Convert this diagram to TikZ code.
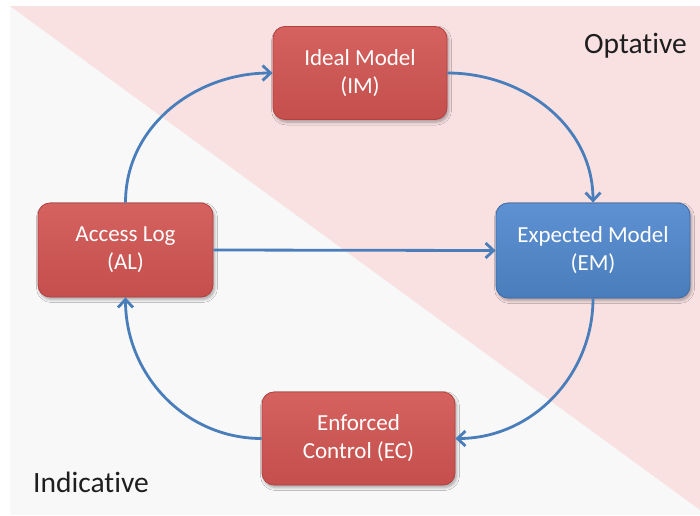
\documentclass[tikz,border=0pt]{standalone}
\usepackage{fontspec}
\setmainfont[RawFeature={-liga}]{Carlito}
\usetikzlibrary{arrows.meta,shadows.blur}
\definecolor{pinkbg}{HTML}{F9E1E2}
\definecolor{graybg}{HTML}{F8F8F8}
\definecolor{redtop}{HTML}{D5625F}
\definecolor{redbot}{HTML}{C44F4C}
\definecolor{redline}{HTML}{B5403D}
\definecolor{bluetop}{HTML}{5E91D2}
\definecolor{bluebot}{HTML}{4A7DBB}
\definecolor{blueline}{HTML}{3D6BA6}
\definecolor{arrowblue}{HTML}{4A7EBB}
\definecolor{labeltext}{HTML}{1E1E1E}
\tikzset{
  box/.style={rounded corners=12pt, align=center, text=white, line width=0.8pt,
    font=\fontsize{23}{28}\selectfont,
    blur shadow={shadow xshift=1.5pt, shadow yshift=-2.5pt, shadow blur steps=6, shadow blur radius=3pt, shadow opacity=35}},
  redbox/.style={box, draw=redline, top color=redtop, bottom color=redbot},
  bluebox/.style={box, draw=blueline, top color=bluetop, bottom color=bluebot},
  arr/.style={draw=arrowblue, line width=2.8pt, -{Straight Barb[length=8pt,width=15pt,line width=2.8pt]}},
  biglabel/.style={text=labeltext, font=\fontsize{29.5}{32}\selectfont, inner sep=0pt}
}
\begin{document}
\begin{tikzpicture}[x=1pt,y=-1pt]
\useasboundingbox (0,0) rectangle (700,515);
\fill[white] (0,0) rectangle (700,515);
\fill[graybg] (10,6) rectangle (700,515);
\fill[pinkbg] (10,6) -- (700,6) -- (700,510) -- cycle;

\node[redbox, minimum width=174pt, minimum height=93pt] (im) at (360,73) {Ideal Model\\(IM)};
\node[bluebox, minimum width=194pt, minimum height=95pt] (em) at (593,250.5) {Expected Model\\(EM)};
\node[redbox, minimum width=175pt, minimum height=94pt] (al) at (125.5,250) {Access Log\\(AL)};
\node[redbox, minimum width=193pt, minimum height=93pt] (ec) at (358.5,438.5) {Enforced\\Control (EC)};

\node[biglabel, anchor=base east] (opt) at (687,53) {Optative};
\node[biglabel, anchor=base west] (ind) at (33,492) {Indicative};

\draw[arr] (al.north) to[out=90,in=180] (im.west);
\draw[arr] (im.east) to[out=0,in=90] (em.north);
\draw[arr] (em.south) to[out=-90,in=0] (ec.east);
\draw[arr] (ec.west) to[out=180,in=-90] (al.south);
\draw[arr] (al.east) -- (em.west);
\end{tikzpicture}
\end{document}
